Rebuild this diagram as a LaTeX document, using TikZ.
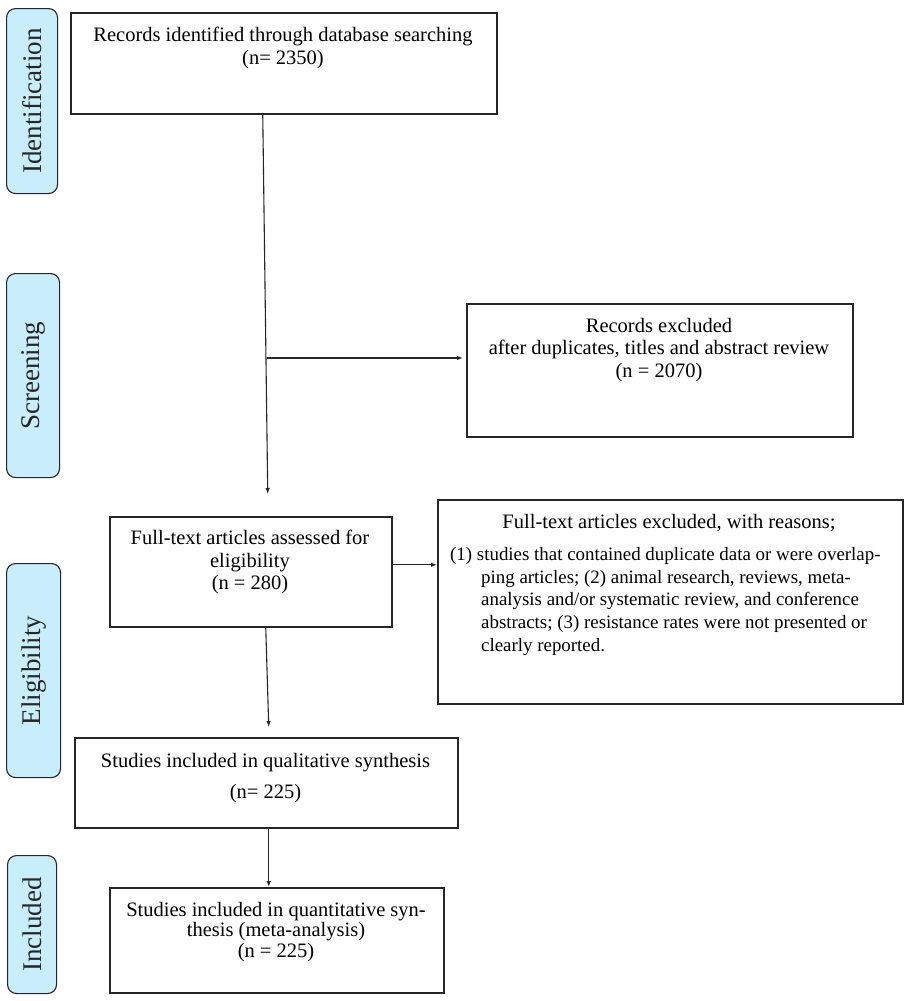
\documentclass[tikz,border=0pt]{standalone}
\usepackage{fontspec}
\setmainfont{Liberation Serif}
\usetikzlibrary{arrows.meta}
\definecolor{pillblue}{HTML}{C8EEFB}
\definecolor{edge}{HTML}{262626}
\begin{document}
\begin{tikzpicture}[x=1pt,y=-1pt,
  box/.style={draw=edge,line width=1.5pt,anchor=north west,inner sep=0pt},
  pill/.style={draw=edge,line width=1.1pt,fill=pillblue,rounded corners=9pt,anchor=north west,inner sep=0pt},
  pilltext/.style={rotate=90,font=\fontsize{27}{30}\selectfont,text=black!85},
  txt/.style={font=\fontsize{20.5}{22.5}\selectfont,align=center,inner sep=0pt},
  arr/.style={draw=edge,line width=1.1pt,-{Latex[length=6pt,width=4.5pt]}}
]
\useasboundingbox (0,0) rectangle (906,1001);
\fill[white] (0,0) rectangle (906,1001);

% side pills
\node[pill,minimum width=51pt,minimum height=185pt] (pI) at (6,8) {};
\node[pilltext] (tI) at (pI.center) {Identification};
\node[pill,minimum width=53pt,minimum height=204pt] (pS) at (6,273) {};
\node[pilltext] (tS) at (pS.center) {Screening};
\node[pill,minimum width=54pt,minimum height=214pt] (pE) at (6,563) {};
\node[pilltext] (tE) at (pE.center) {Eligibility};
\node[pill,minimum width=49pt,minimum height=138pt] (pN) at (7,855) {};
\node[pilltext] (tN) at (pN.center) {Included};

% boxes
\node[box,minimum width=426pt,minimum height=101pt] (b1) at (70,12) {};
\node[txt] (t1) at (283,48) {Records identified through database searching\\(n= 2350)};

\node[box,minimum width=386pt,minimum height=133pt] (b2) at (466,303) {};
\node[txt] (t2) at (659,350) {Records excluded\\after duplicates, titles and abstract review\\(n = 2070)};

\node[box,minimum width=282pt,minimum height=110pt] (b3) at (109,516) {};
\node[txt] (t3) at (250,562) {Full-text articles assessed for\\eligibility\\(n = 280)};

\node[box,minimum width=465pt,minimum height=204pt] (b4) at (437,499) {};
\node[txt] (t4h) at (669,523) {Full-text articles excluded, with reasons;};
\node[txt,align=left,anchor=north west,font=\fontsize{18.9}{22.8}\selectfont] (t4) at (450,547)
  {(1) studies that contained duplicate data or were overlap-\\
   \hspace*{31pt}ping articles; (2) animal research, reviews, meta-\\
   \hspace*{31pt}analysis and/or systematic review, and conference\\
   \hspace*{31pt}abstracts; (3) resistance rates were not presented or\\
   \hspace*{31pt}clearly reported.};

\node[box,minimum width=383pt,minimum height=90pt] (b5) at (74,737) {};
\node[txt] (t5) at (265.5,778) {Studies included in qualitative synthesis\\[9pt](n= 225)};

\node[box,minimum width=334pt,minimum height=105pt] (b6) at (109,887) {};
\node[txt,font=\fontsize{20.5}{20.7}\selectfont] (t6) at (276,932) {Studies included in quantitative syn-\\thesis (meta-analysis)\\(n = 225)};

% connectors
\coordinate (j1) at (267,358);
\draw[arr] ([xshift=-21pt]b1.south) -- ([xshift=17pt,yshift=22pt]b3.north);
\draw[arr,shorten >=3pt] (j1) -- (j1 -| b2.west);
\draw[arr] ([yshift=7pt]b3.east) -- ([yshift=7pt]b3.east -| b4.west);
\draw[arr] ([xshift=15pt]b3.south) -- ([xshift=2.5pt,yshift=10pt]b5.north);
\draw[arr] ([xshift=2.5pt]b5.south) -- ([xshift=-8pt]b6.north);
\end{tikzpicture}
\end{document}
